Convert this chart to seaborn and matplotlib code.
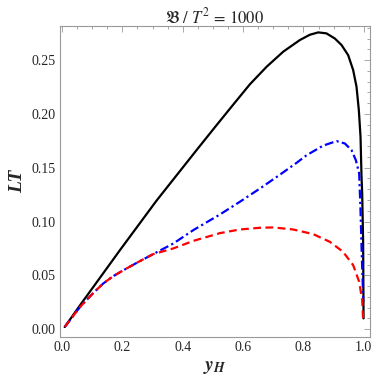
import numpy as np
import pandas as pd
import matplotlib
matplotlib.use("Agg")
import matplotlib.pyplot as plt
from matplotlib.ticker import MultipleLocator
import seaborn as sns

# --- data ---
x_black = [0.009, 0.06, 0.104, 0.192, 0.3135, 0.446, 0.512, 0.567, 0.6225, 0.678,
           0.733, 0.788, 0.821, 0.849, 0.876, 0.904, 0.926, 0.948, 0.9646, 0.9757,
           0.9834, 0.989, 0.9923, 0.9945, 0.9977, 0.999]
y_black = [0.002, 0.0223, 0.0393, 0.0734, 0.1195, 0.1664, 0.1895, 0.2085, 0.2275, 0.2438,
           0.2578, 0.2686, 0.2735, 0.2757, 0.2748, 0.270, 0.264, 0.2546, 0.2407, 0.2252,
           0.2035, 0.1787, 0.1415, 0.126, 0.0796, 0.01]

x_blue = [0.009, 0.06, 0.104, 0.137, 0.170, 0.214, 0.258, 0.302, 0.369, 0.435,
          0.523, 0.589, 0.656, 0.722, 0.777, 0.810, 0.865, 0.9095, 0.937, 0.959,
          0.9735, 0.9845, 0.989, 0.993, 0.996, 0.998]
y_blue = [0.002, 0.0207, 0.0337, 0.0425, 0.0493, 0.0564, 0.0632, 0.0697, 0.0796, 0.092,
          0.1065, 0.1183, 0.1307, 0.1435, 0.1545, 0.1615, 0.1705, 0.1747, 0.1725, 0.1664,
          0.157, 0.1447, 0.11, 0.07, 0.045, 0.0254]

x_red = [0.009, 0.06, 0.104, 0.137, 0.170, 0.214, 0.258, 0.302, 0.369, 0.435,
         0.523, 0.589, 0.656, 0.70, 0.766, 0.832, 0.887, 0.931, 0.9646, 0.9845,
         0.9945, 0.998]
y_red = [0.002, 0.0207, 0.0337, 0.0425, 0.0493, 0.0564, 0.0632, 0.0697, 0.075, 0.082,
         0.0892, 0.0926, 0.0942, 0.0945, 0.0926, 0.0883, 0.0812, 0.0719, 0.0595, 0.044,
         0.027, 0.0068]

x_ticks = [0.0, 0.2, 0.4, 0.6, 0.8, 1.0]
y_ticks = [0.00, 0.05, 0.10, 0.15, 0.20, 0.25]

# --- style ---
sns.set_style("white")
plt.rcParams['font.family'] = ['Liberation Serif', 'DejaVu Serif']
plt.rcParams['mathtext.fontset'] = 'stix'

fig = plt.figure(figsize=(3.74, 3.83), dpi=100)
ax = fig.add_axes([0.1604, 0.1209, 0.8286, 0.8111])

sns.lineplot(x=x_black, y=y_black, ax=ax, color='black', lw=1.6, sort=False)
sns.lineplot(x=x_blue, y=y_blue, ax=ax, color='#0000ff', lw=1.6, sort=False,
             linestyle=(0, (4, 1.5, 1, 1.5)))
sns.lineplot(x=x_red, y=y_red, ax=ax, color='#ff0000', lw=1.6, sort=False,
             linestyle=(0, (3.5, 2)))

ax.set_xlim(-0.0066, 1.02)
ax.set_ylim(-0.007, 0.2816)
ax.set_xticks(x_ticks)
ax.set_xticklabels([f"{v:.1f}" for v in x_ticks])
ax.set_yticks(y_ticks)
ax.set_yticklabels([f"{v:.2f}" for v in y_ticks])
ax.xaxis.set_minor_locator(MultipleLocator(0.05))
ax.yaxis.set_minor_locator(MultipleLocator(0.01))

ax.tick_params(which='both', direction='in', top=True, right=True,
               color='#999999', labelsize=10, pad=3)
ax.tick_params(which='major', length=4.5, width=0.6)
ax.tick_params(which='minor', length=2.5, width=0.6)
for s in ax.spines.values():
    s.set_color('#999999')
    s.set_linewidth(0.8)

ax.set_title(r"$\mathfrak{B}\ /\ T^2\, =\, 1000$", fontsize=12, pad=2)
ax.set_xlabel(r"$\mathbfit{y}_{\mathbfit{H}}$", fontsize=14, labelpad=4)
ax.set_ylabel("LT", fontsize=14, fontweight='bold', style='italic', labelpad=4)

fig.savefig("out.png", dpi=100)
